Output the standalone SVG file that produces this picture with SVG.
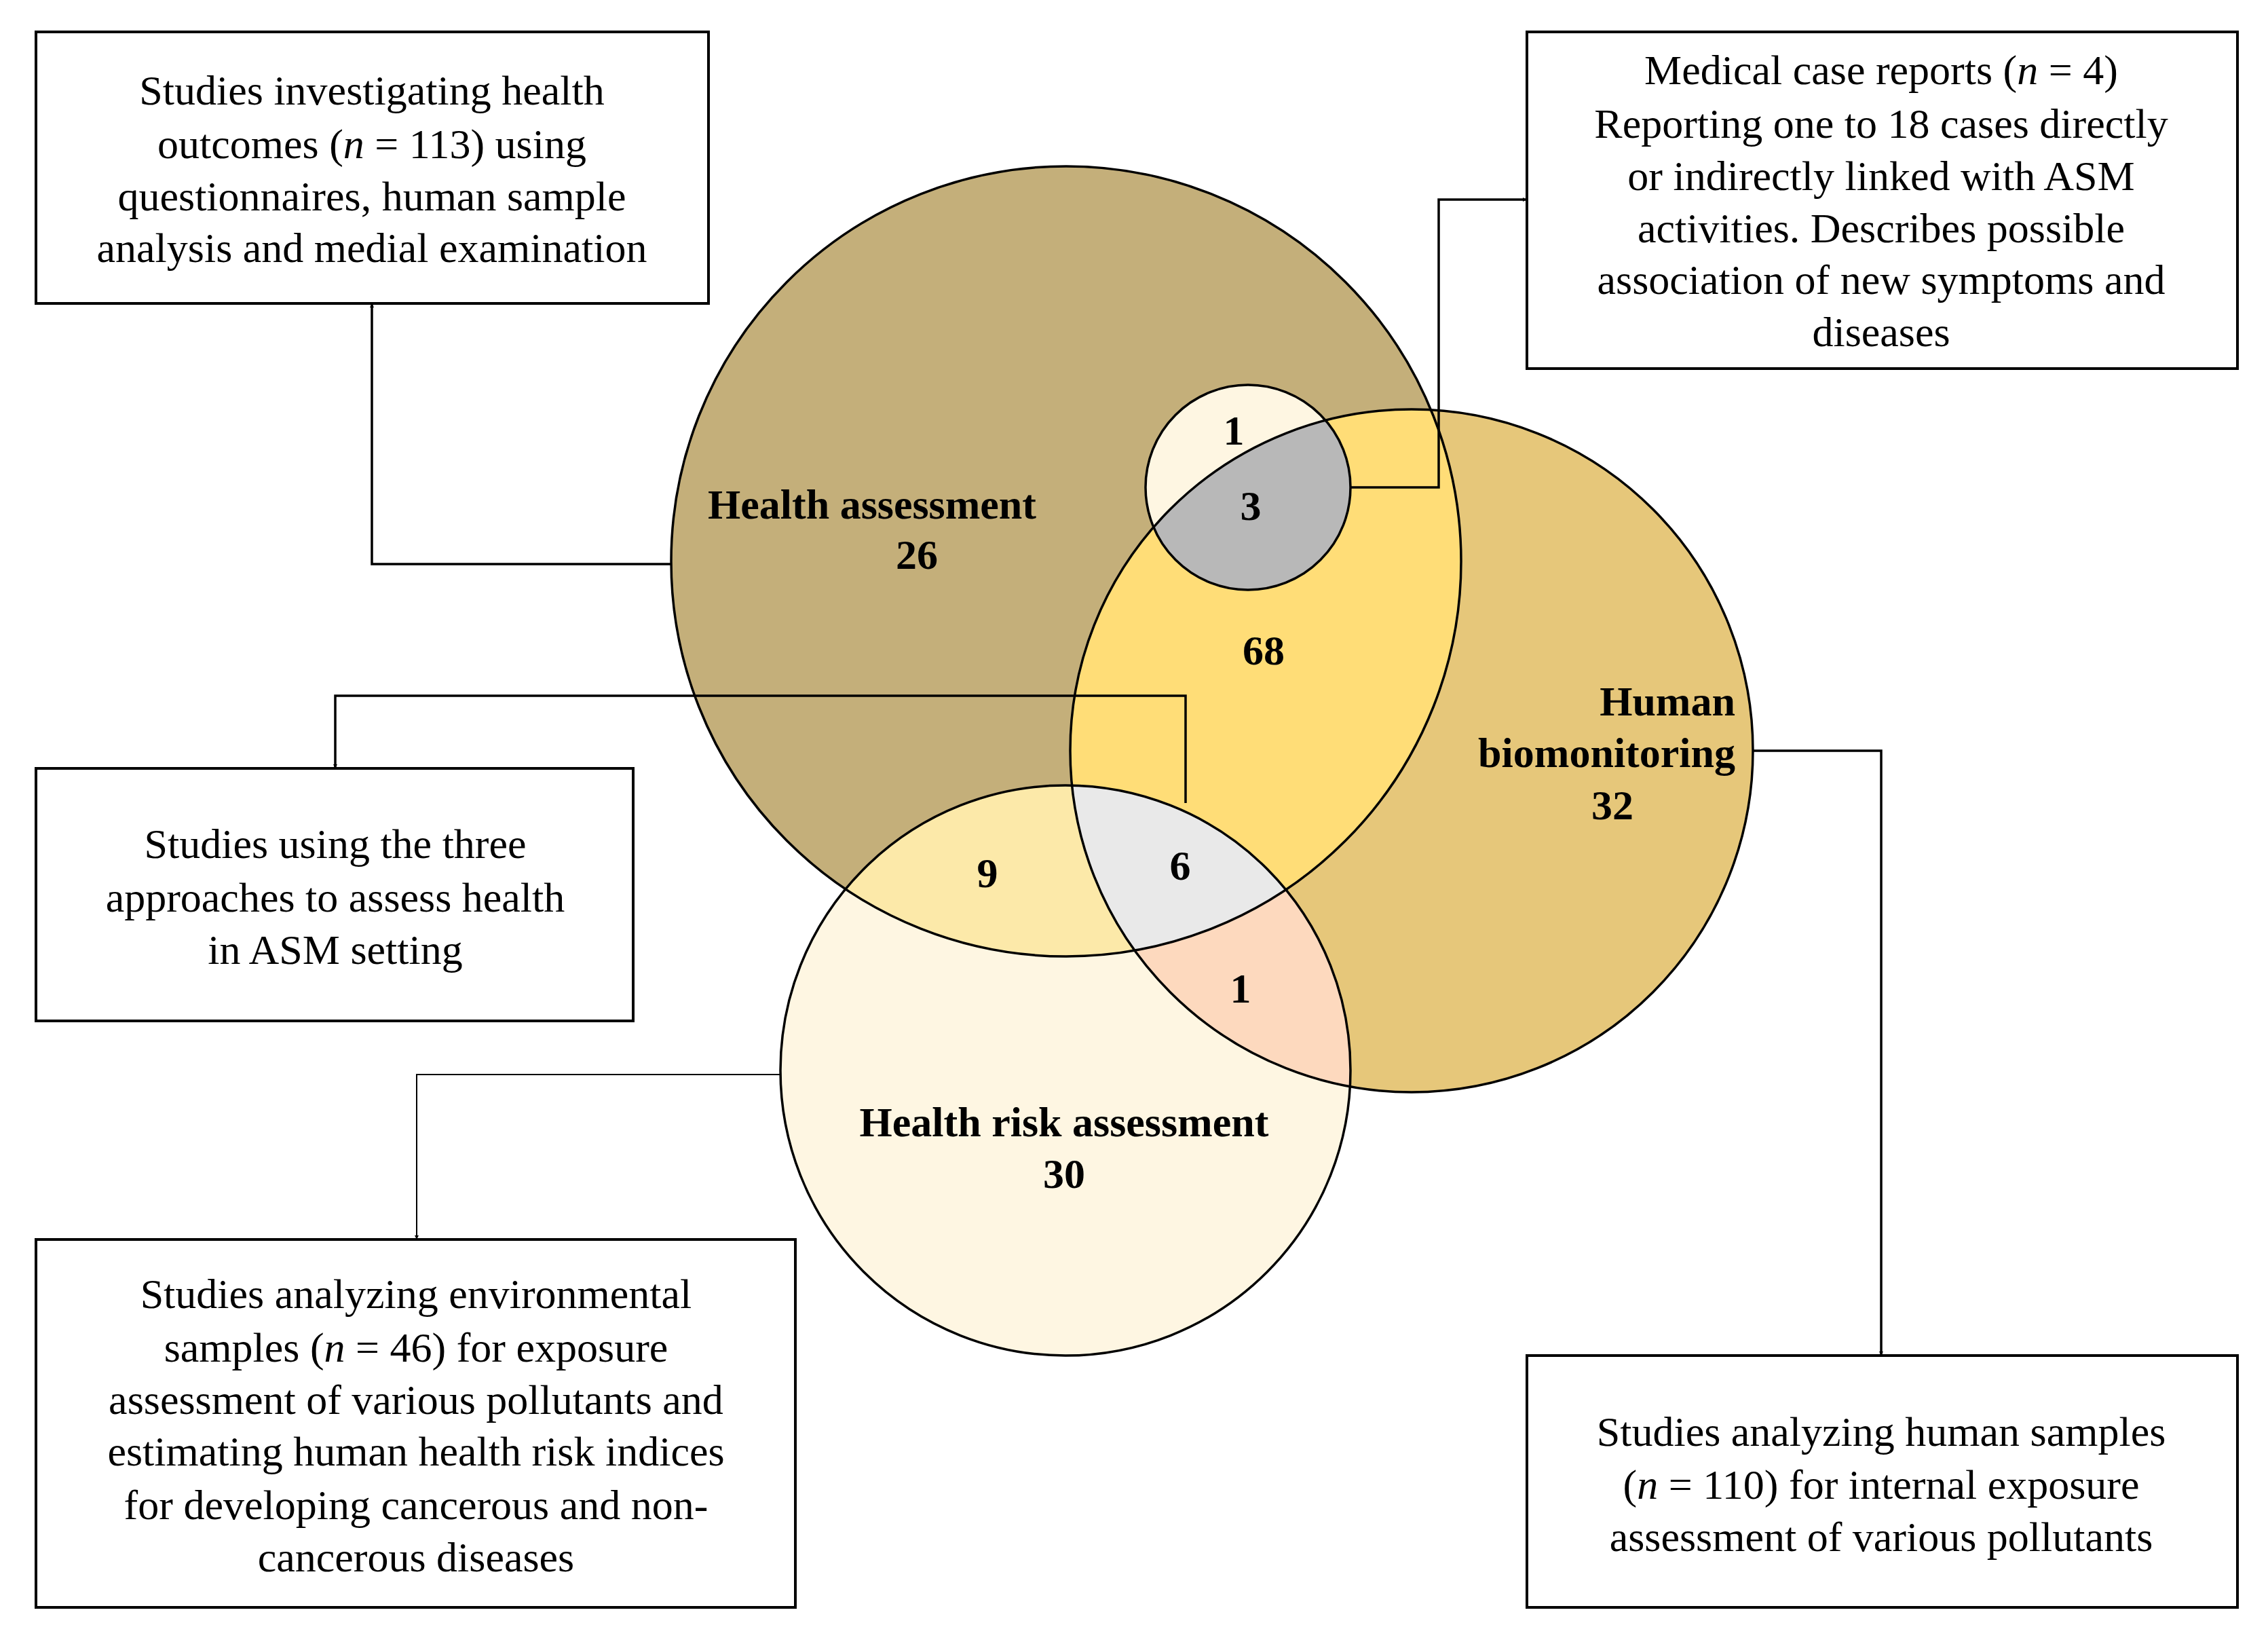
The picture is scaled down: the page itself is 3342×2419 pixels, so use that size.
<svg xmlns="http://www.w3.org/2000/svg" width="3342" height="2419" viewBox="0 0 3342 2419">
<style>
text{font-family:"Liberation Serif","Times New Roman",serif;font-size:62px;fill:#000;text-anchor:middle}
.b{font-weight:bold}
.box{fill:#fff;stroke:#000;stroke-width:4}
.ol{fill:none;stroke:#000;stroke-width:3.5}
.cn{fill:none;stroke:#000;stroke-width:3.5}
</style>
<defs>
<clipPath id="cHA"><circle cx="1571" cy="827" r="582"/></clipPath>
<clipPath id="cHB"><circle cx="2080" cy="1106" r="503"/></clipPath>
<marker id="ar" viewBox="0 0 10 10" refX="10" refY="5" markerWidth="6" markerHeight="6" markerUnits="userSpaceOnUse" orient="auto"><path d="M0,0L10,5L0,10z"/></marker>
</defs>
<rect width="3342" height="2419" fill="#fff"/>
<g id="venn">
<circle cx="2080" cy="1106" r="503" fill="#E6C77A"/>
<circle cx="1571" cy="827" r="582" fill="#C4AF7A"/>
<circle cx="2080" cy="1106" r="503" fill="#FFDD77" clip-path="url(#cHA)"/>
<circle cx="1570" cy="1577" r="420" fill="#FEF6E2"/>
<circle cx="1570" cy="1577" r="420" fill="#FCE9A9" clip-path="url(#cHA)"/>
<circle cx="1570" cy="1577" r="420" fill="#FDD9BE" clip-path="url(#cHB)"/>
<g clip-path="url(#cHA)"><circle cx="1570" cy="1577" r="420" fill="#E9E9E9" clip-path="url(#cHB)"/></g>
<circle cx="1839" cy="718" r="151" fill="#FEF6E2"/>
<circle cx="1839" cy="718" r="151" fill="#B8B8B8" clip-path="url(#cHB)"/>
<circle class="ol" cx="1571" cy="827" r="582"/>
<circle class="ol" cx="2080" cy="1106" r="503"/>
<circle class="ol" cx="1570" cy="1577" r="420"/>
<circle class="ol" cx="1839" cy="718" r="151"/>
<text class="b" x="1285" y="764">Health assessment</text>
<text class="b" x="1351" y="838">26</text>
<text class="b" x="1818" y="655">1</text>
<text class="b" x="1843" y="766">3</text>
<text class="b" x="1862" y="979">68</text>
<text class="b" x="2557" y="1054" style="text-anchor:end">Human</text>
<text class="b" x="2557" y="1130" style="text-anchor:end">biomonitoring</text>
<text class="b" x="2376" y="1207">32</text>
<text class="b" x="1455" y="1307">9</text>
<text class="b" x="1739" y="1296">6</text>
<text class="b" x="1828" y="1477">1</text>
<text class="b" x="1568" y="1674">Health risk assessment</text>
<text class="b" x="1568" y="1750">30</text>
</g>
<g id="connectors">
<polyline class="cn" points="989,831 548,831 548,447" marker-end="url(#ar)"/>
<polyline class="cn" points="1990,718 2120,718 2120,294 2250,294" marker-end="url(#ar)"/>
<polyline class="cn" points="1747,1183 1747,1025 494,1025 494,1132" marker-end="url(#ar)"/>
<polyline class="cn" points="1149,1583 614,1583 614,1826" marker-end="url(#ar)" style="stroke-width:2"/>
<polyline class="cn" points="2583,1106 2772,1106 2772,1997" marker-end="url(#ar)"/>
</g>
<g id="box1">
<rect class="box" x="53" y="47" width="991" height="400"/>
<text x="548" y="154">Studies investigating health</text>
<text x="548" y="233">outcomes (<tspan font-style="italic">n</tspan> = 113) using</text>
<text x="548" y="310">questionnaires, human sample</text>
<text x="548" y="386">analysis and medial examination</text>
</g>
<g id="box2">
<rect class="box" x="2250" y="47" width="1047" height="496"/>
<text x="2772" y="124">Medical case reports (<tspan font-style="italic">n</tspan> = 4)</text>
<text x="2772" y="203">Reporting one to 18 cases directly</text>
<text x="2772" y="280">or indirectly linked with ASM</text>
<text x="2772" y="357">activities. Describes possible</text>
<text x="2772" y="433">association of new symptoms and</text>
<text x="2772" y="510">diseases</text>
</g>
<g id="box3">
<rect class="box" x="53" y="1132" width="880" height="372"/>
<text x="494" y="1264">Studies using the three</text>
<text x="494" y="1343">approaches to assess health</text>
<text x="494" y="1420">in ASM setting</text>
</g>
<g id="box4">
<rect class="box" x="53" y="1826" width="1119" height="542"/>
<text x="613" y="1927">Studies analyzing environmental</text>
<text x="613" y="2006">samples (<tspan font-style="italic">n</tspan> = 46) for exposure</text>
<text x="613" y="2083">assessment of various pollutants  and</text>
<text x="613" y="2159">estimating human health risk  indices</text>
<text x="613" y="2238">for developing cancerous and non-</text>
<text x="613" y="2315">cancerous diseases</text>
</g>
<g id="box5">
<rect class="box" x="2250" y="1997" width="1047" height="371"/>
<text x="2772" y="2130">Studies analyzing human samples</text>
<text x="2772" y="2208">(<tspan font-style="italic">n</tspan> = 110) for internal exposure</text>
<text x="2772" y="2285">assessment of various pollutants</text>
</g>
</svg>
